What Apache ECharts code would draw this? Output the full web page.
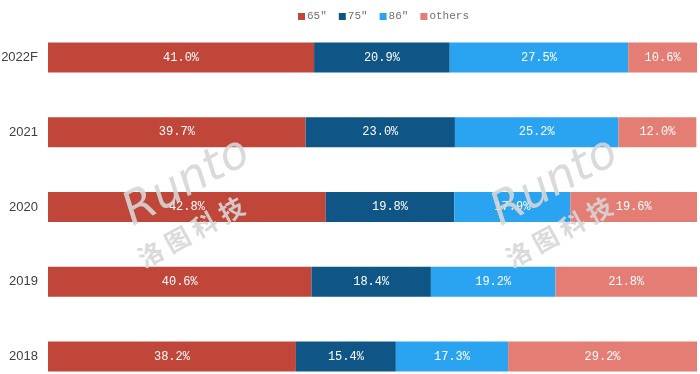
<!DOCTYPE html>
<html>
<head>
<meta charset="utf-8">
<script src="https://cdn.jsdelivr.net/npm/echarts@6/dist/echarts.min.js"></script>
<style>html,body{margin:0;padding:0;background:#fff}#c{width:700px;height:374px}</style>
</head>
<body>
<div id="c"></div>
<script>
const categories = ['2022F', '2021', '2020', '2019', '2018'];
const seriesNames = ['65"', '75"', '86"', 'others'];
const s65 = [41.0, 39.7, 42.8, 40.6, 38.2];
const s75 = [20.9, 23.0, 19.8, 18.4, 15.4];
const s86 = [27.5, 25.2, 17.9, 19.2, 17.3];
const sOthers = [10.6, 12.0, 19.6, 21.8, 29.2];
const colors = ['#C0463A', '#0F5585', '#2AA4F0', '#E47D73'];

const values = [s65, s75, s86, sOthers];
const chart = echarts.init(document.getElementById('c'), null, {renderer: 'canvas'});

const wmStyle = (txt, size) => ({
  text: txt, fill: '#d6d6d6', opacity: 0.9,
  font: size, textAlign: 'center', textVerticalAlign: 'middle'
});

function watermark(cx) {
  return [
    {type: 'text', x: cx, y: 183, rotation: 0.5, z: 100,
     style: wmStyle('Runto', 'italic 46px "DejaVu Sans"')},
    {type: 'text', x: cx + 4, y: 232, rotation: 0.5, z: 100,
     style: wmStyle('洛 图 科 技', 'bold 25px "Noto Sans CJK SC"')}
  ];
}

chart.setOption({
  animation: false,
  color: colors,
  legend: {
    top: 6, left: 293,
    icon: 'rect', itemWidth: 7, itemHeight: 7, itemGap: 12,
    textStyle: {color: '#707070', fontSize: 11, fontFamily: '"Liberation Mono"', padding: [0,0,0,-3]},
    data: seriesNames
  },
  grid: {left: 48, right: 3, top: 20, height: 374, containLabel: false, outerBoundsMode: 'none'},
  xAxis: {type: 'value', min: 0, max: 100, show: false},
  yAxis: {
    type: 'category', data: categories, inverse: true,
    axisLine: {show: false}, axisTick: {show: false},
    axisLabel: {color: '#404040', fontSize: 13, fontFamily: '"Liberation Sans"', margin: 10}
  },
  graphic: watermark(187).concat(watermark(555)),
  series: seriesNames.map((n, i) => ({
    name: n, type: 'bar', stack: 'total', barWidth: 30,
    data: values[i],
    itemStyle: {color: colors[i]},
    label: {
      show: true, position: 'inside', color: '#fff',
      fontSize: 12, fontFamily: '"Liberation Mono"',
      formatter: p => p.value.toFixed(1) + '%'
    }
  }))
});
</script>
</body>
</html>
